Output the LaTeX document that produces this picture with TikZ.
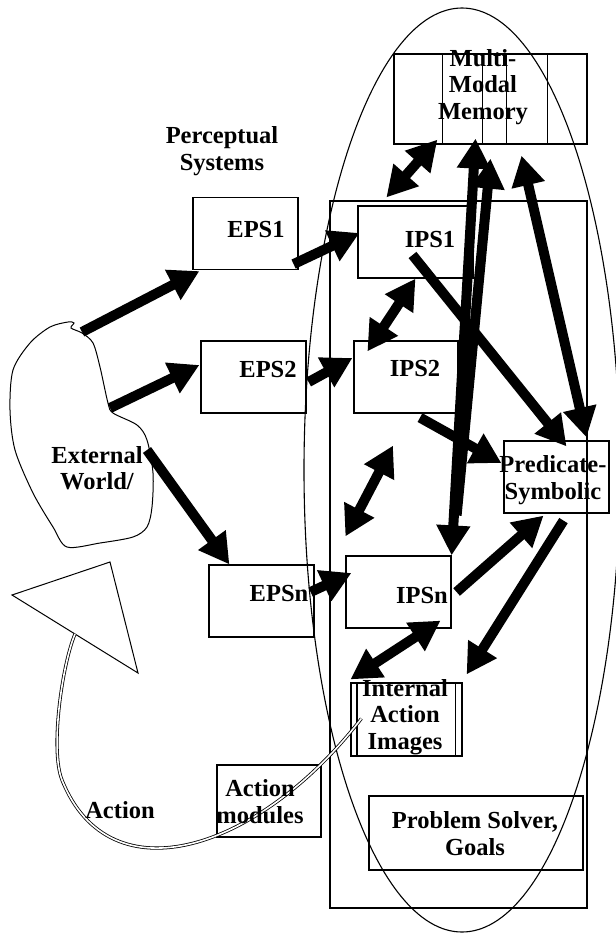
\documentclass[tikz,border=0pt]{standalone}
\usepackage{fontspec}
\setmainfont{Liberation Serif}
\usetikzlibrary{arrows.meta,calc,shapes.geometric}

\begin{document}
\begin{tikzpicture}[x=1pt,y=-1pt]
            \tikzset{box/.style={draw,line width=1.2pt,minimum width=105pt,minimum height=72pt,inner sep=0pt}};
            \tikzset{txt/.style={font=\bfseries\fontsize{24.5}{26.5}\selectfont,align=center,inner sep=0pt}};
            \tikzset{fat/.style={line width=10pt,-{Triangle[length=30pt,width=32pt]}}};
            \tikzset{fatboth/.style={line width=10pt,{Triangle[length=30pt,width=32pt]}-{Triangle[length=30pt,width=32pt]}}};
            \useasboundingbox (0,0) rectangle (616,935);

            \node[draw,ellipse,line width=1.1pt,inner sep=0pt,minimum width=316pt,minimum height=924pt] (mind) at (462,470) {};
            \node[box,minimum width=257pt,minimum height=707pt] (sys) at (458.5,554.5) {};

            \node[box,minimum width=193pt,minimum height=90pt] (mem) at (490.5,99) {};
            \foreach \dx in {49,89,113,154}
               \draw[line width=1.2pt] ([xshift=\dx pt]mem.north west) -- ([xshift=\dx pt]mem.south west);

            \node[box] (eps1) at (245.5,233.5) {};
            \node[box] (eps2) at (253.5,377) {};
            \node[box] (epsn) at (261.5,601) {};
            \node[box,minimum width=115pt] (ips1) at (415.5,242) {};
            \node[box,minimum width=104pt] (ips2) at (406,377) {};
            \node[box] (ipsn) at (398.5,592) {};
            \node[box] (pred) at (556.5,477) {};
            \node[box,minimum width=111pt,minimum height=73pt] (iai) at (406.5,719.5) {};
            \foreach \dx in {6.5,105}
               \draw[line width=1.2pt] ([xshift=\dx pt]iai.north west) -- ([xshift=\dx pt]iai.south west);
            \node[box,minimum width=104pt] (act) at (269,801) {};
            \node[box,minimum width=214pt,minimum height=74pt] (ps) at (476,833) {};

            \draw[line width=1pt] plot[smooth cycle,tension=0.5] coordinates {(50,327) (68,322) (74,323) (71,328) (82,333) (93,343) (100,367) (108,403) (113,413) (137,425) (147,440) (153,473) (152,507) (147,527) (133,537) (100,543) (67,547) (53,527) (33,493) (15,450) (10,410) (13,370) (30,343)};
            \coordinate (w1) at (82,332);
            \coordinate (w2) at (110,408);
            \coordinate (w3) at (147,450);

            \coordinate (t1) at (12,595);
            \coordinate (t2) at (110,562);
            \coordinate (t3) at (138,673);
            \draw[line width=1pt] (t1) -- (t2) -- (t3) -- cycle;
            \coordinate (tri) at ($(t1)!0.5!(t3)$);
            \coordinate (iaiend) at ($(iai.west)+(11,-1)$);
            \draw[double,double distance=1.6pt,line width=0.8pt] (iaiend) .. controls (260,850) and (110,900) .. (62,780) .. controls (50,750) and (62,665) .. (tri);

            \draw[fat] (w1) -- ($(eps1.south west)+(7,1)$);
            \draw[fat] (w2) -- ($(eps2.west)+(-1,-12)$);
            \draw[fat] (w3) -- ($(epsn.north west)+(21,0)$);
            \draw[fat] ($(eps1.south east)+(-5,-6)$) -- ($(ips1.west)+(2,-9)$);
            \draw[fat] ($(eps2.east)+(2,5)$) -- ($(ips2.west)+(-1,-19)$);
            \draw[fat] ($(epsn.east)+(-4,-9)$) -- ($(ipsn.west)+(6,-19)$);
            \draw[fatboth] ($(ips1.north west)+(29,-8)$) -- ($(mem.south west)+(44,-5)$);
            \draw[fatboth] (ips1.south) -- ($(ips2.north west)+(14,11)$);
            \draw[fat] ($(ips1.center)+(-3,13)$) -- ($(pred.north)+(10,6)$);
            \draw[fat] ($(ips2.south)+(14,4)$) -- ($(pred.west)+(-2,-14)$);
            \draw[fatboth] ($(mem.south)+(31,11)$) -- ($(pred.north)+(30,-3)$);
            \draw[fatboth] ($(mem.south)+(-15,-6)$) -- (ipsn.north east);
            \draw[fat] ($(ipsn.north east)+(5,-40)$) -- ($(mem.south)+(0,14)$);
            \draw[fatboth] ($(ips2.south)+(-13,32)$) -- ($(ipsn.north west)+(0,-19)$);
            \draw[fat] ($(ipsn.east)+(5,0)$) -- ($(pred.south)+(-13,2)$);
            \draw[fat] ($(pred.south)+(7,7)$) -- ($(iai.north east)+(4,-8)$);
            \draw[fatboth] ($(ipsn.south east)+(-11,-8)$) -- ($(iai.north west)+(0,-3)$);

            \node[txt] (mem-t) at ($(mem)+(-7.5,-12)$) {Multi-\\Modal\\Memory};
            \node[txt] (eps1-t) at ($(eps1)+(10.5,-3.5)$) {EPS1};
            \node[txt] (eps2-t) at ($(eps2)+(14.5,-7)$) {EPS2};
            \node[txt] (epsn-t) at ($(epsn)+(17.5,-8)$) {EPSn};
            \node[txt] (ips1-t) at ($(ips1)+(14.5,-2)$) {IPS1};
            \node[txt] (ips2-t) at ($(ips2)+(9,-8)$) {IPS2};
            \node[txt] (ipsn-t) at ($(ipsn)+(23.5,4)$) {IPSn};
            \node[txt] (pred-t) at ($(pred)+(-3.5,3)$) {Predicate-\\Symbolic};
            \node[txt] (iai-t) at ($(iai)+(-1.5,-2.5)$) {Internal\\Action\\Images};
            \node[txt] (act-t) at ($(act)+(-9,0.5)$) {Action\\modules};
            \node[txt] (ps-t) at ($(ps)+(-1,0.5)$) {Problem Solver,\\Goals};
            \node[txt] (perc) at (222,151) {Perceptual\\Systems};
            \node[txt] (world) at (97,468) {External\\World/};
            \node[txt] (action) at (120,810) {Action};
\end{tikzpicture}
\end{document}
